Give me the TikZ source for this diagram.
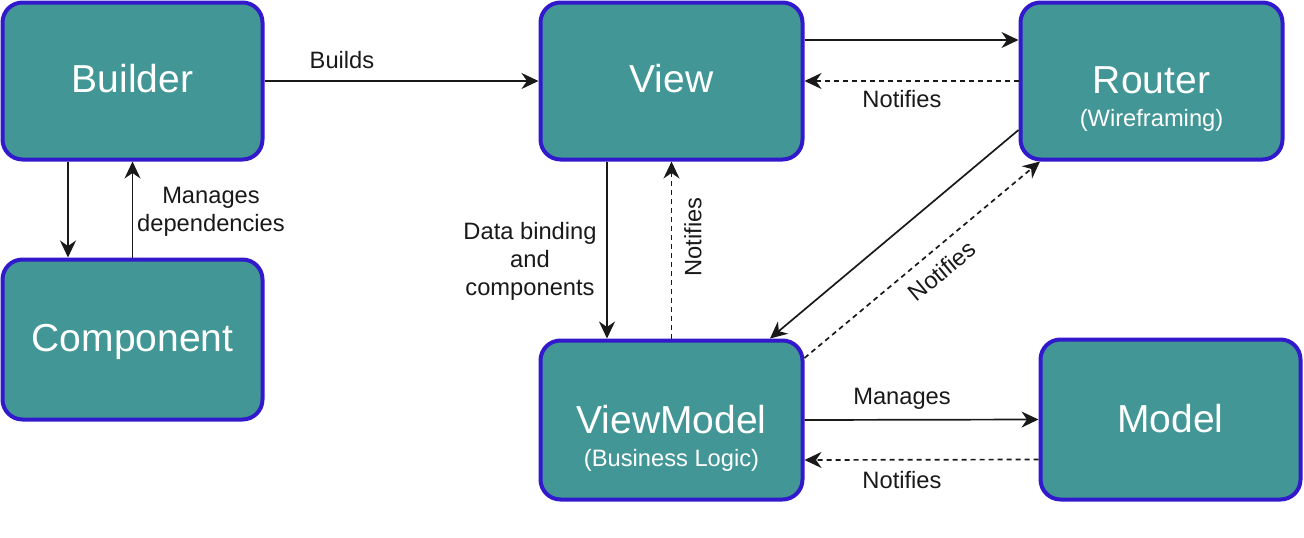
\documentclass[tikz,border=0pt]{standalone}
\usepackage{fontspec}
\setmainfont{Liberation Sans}
\usetikzlibrary{arrows.meta,calc}
\definecolor{boxfill}{RGB}{66,150,150}
\definecolor{boxline}{RGB}{50,26,204}
\definecolor{ink}{RGB}{25,25,25}
\begin{document}
\begin{tikzpicture}[x=1pt,y=-1pt,
  box/.style={draw=boxline, line width=4pt, fill=boxfill, rounded corners=20pt, inner sep=0pt, minimum width=260pt, minimum height=157pt},
  big/.style={text=white, font=\fontsize{39}{44}\selectfont, anchor=base, inner sep=0pt},
  sub/.style={text=white, font=\fontsize{23.7}{28}\selectfont, anchor=base, inner sep=0pt},
  lbl/.style={font=\fontsize{23.7}{28}\selectfont, align=center, inner sep=0pt, text=ink},
  conn/.style={line width=1.7pt, draw=ink, -{Stealth[length=17pt,width=16pt,inset=5.5pt]}},
  dconn/.style={conn, dash pattern=on 5pt off 4pt},
]
\useasboundingbox (0,0) rectangle (1304,538);

% boxes
\node[box] (builder) at (132.5,81) {};
\node[box, minimum height=160pt] (component) at (132.5,339.5) {};
\node[box, minimum width=262pt] (view) at (671.5,81) {};
\node[box, minimum width=262pt] (router) at (1151.5,81) {};
\node[box, minimum width=262pt, minimum height=159pt] (viewmodel) at (671.5,420) {};
\node[box, minimum height=160pt] (model) at (1170.5,419.5) {};

% box texts
\node[big] (builderT) at ($(builder.center)+(0,11)$) {Builder};
\node[big] (componentT) at ($(component.center)+(0,12)$) {Component};
\node[big] (viewT) at ($(view.center)+(0,11)$) {View};
\node[big] (routerT) at ($(router.center)+(0,12)$) {Router};
\node[sub] (routerS) at ($(router.center)+(0,45)$) {(Wireframing)};
\node[big] (viewmodelT) at ($(viewmodel.center)+(0,13)$) {ViewModel};
\node[sub] (viewmodelS) at ($(viewmodel.center)+(0,46)$) {(Business Logic)};
\node[big] (modelT) at ($(model.center)+(0,13)$) {Model};

% Builder / Component
\draw[conn] (builder.east) -- (view.west);
\node[lbl] (buildsL) at (342,60) {Builds};
\draw[conn] ([xshift=-64.5pt]builder.south) -- ([xshift=-64.5pt]component.north);
\draw[conn] (component.north) -- (builder.south);
\node[lbl] (mdL) at (211,212) {Manages\\dependencies};

% View / Router
\draw[conn] ([yshift=41pt]view.east) -- ([yshift=41pt]router.west);
\draw[dconn] (router.west) -- (view.east);
\node[lbl] (n1) at (902,99) {Notifies};

% View / ViewModel
\draw[conn] ([xshift=-64.5pt]view.south) -- ([xshift=-64.5pt]viewmodel.north);
\draw[dconn] (viewmodel.north) -- (view.south);
\node[lbl] (dbL) at (530,261) {Data binding\\and\\components};
\node[lbl, rotate=90] (n2) at (693,237) {Notifies};

% Router / ViewModel
\draw[conn] ([yshift=-49pt]router.west) -- ([xshift=98.5pt]viewmodel.north);
\draw[dconn] ([yshift=62pt]viewmodel.east) -- ([xshift=-111.5pt]router.south);
\node[lbl, rotate=39.6] (n3) at (942,271) {Notifies};

% ViewModel / Model
\draw[conn] (viewmodel.east) -- (model.west);
\draw[dconn] ([yshift=-40pt]model.west) -- ([yshift=-40pt]viewmodel.east);
\node[lbl] (manL) at (902,399) {Manages};
\node[lbl] (n4) at (902,480) {Notifies};
\end{tikzpicture}
\end{document}
